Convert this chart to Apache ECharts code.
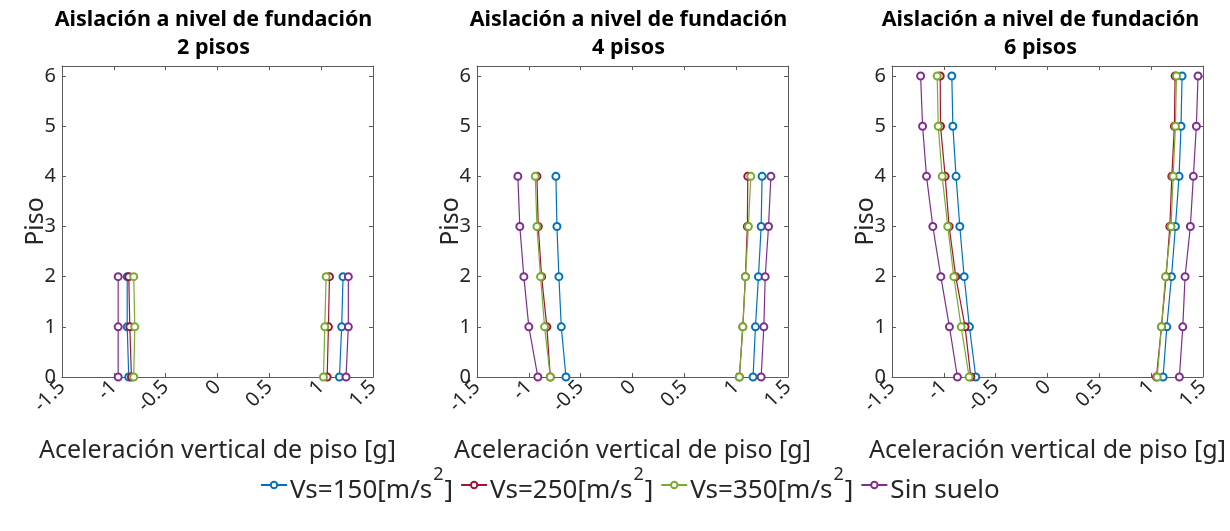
<!DOCTYPE html>
<html>
<head>
<meta charset="utf-8">
<script src="https://cdn.jsdelivr.net/npm/echarts@6/dist/echarts.min.js"></script>
<style>html,body{margin:0;padding:0;background:#fff;}#c{width:1230px;height:531px;}</style>
</head>
<body>
<div id="c"></div>
<script>
// ---- Data ----
const titles = ['Aislación a nivel de fundación\n2 pisos', 'Aislación a nivel de fundación\n4 pisos', 'Aislación a nivel de fundación\n6 pisos'];
const seriesNames = ['Vs=150[m/s²]', 'Vs=250[m/s²]', 'Vs=350[m/s²]', 'Sin suelo'];
const xTicks = [-1.5, -1, -0.5, 0, 0.5, 1, 1.5];
const yTicks = [0, 1, 2, 3, 4, 5, 6];
const floors2 = [0, 1, 2];
const floors4 = [0, 1, 2, 3, 4];
const floors6 = [0, 1, 2, 3, 4, 5, 6];

// 2 pisos (floor 0..2): negative (left) and positive (right) branches
const p2_vs150_left = [-0.856, -0.871, -0.871];
const p2_vs150_right = [1.176, 1.198, 1.211];
const p2_vs250_left = [-0.830, -0.846, -0.856];
const p2_vs250_right = [1.058, 1.070, 1.080];
const p2_vs350_left = [-0.808, -0.798, -0.808];
const p2_vs350_right = [1.022, 1.035, 1.048];
const p2_sin_left = [-0.958, -0.958, -0.958];
const p2_sin_right = [1.240, 1.262, 1.262];

// 4 pisos (floor 0..4)
const p4_vs150_left = [-0.642, -0.687, -0.710, -0.729, -0.739];
const p4_vs150_right = [1.163, 1.186, 1.215, 1.241, 1.250];
const p4_vs250_left = [-0.793, -0.826, -0.877, -0.909, -0.922];
const p4_vs250_right = [1.031, 1.064, 1.089, 1.108, 1.112];
const p4_vs350_left = [-0.793, -0.848, -0.887, -0.922, -0.938];
const p4_vs350_right = [1.031, 1.064, 1.089, 1.118, 1.141];
const p4_sin_left = [-0.913, -1.000, -1.048, -1.087, -1.106];
const p4_sin_right = [1.241, 1.267, 1.280, 1.312, 1.335];

// 6 pisos (floor 0..6)
const p6_vs150_left = [-0.692, -0.753, -0.804, -0.846, -0.882, -0.913, -0.923];
const p6_vs150_right = [1.115, 1.151, 1.196, 1.234, 1.269, 1.288, 1.298];
const p6_vs250_left = [-0.740, -0.795, -0.885, -0.949, -0.987, -1.032, -1.035];
const p6_vs250_right = [1.051, 1.099, 1.144, 1.180, 1.199, 1.224, 1.231];
const p6_vs350_left = [-0.756, -0.833, -0.904, -0.962, -1.016, -1.054, -1.064];
const p6_vs350_right = [1.058, 1.099, 1.138, 1.192, 1.212, 1.234, 1.244];
const p6_sin_left = [-0.869, -0.946, -1.029, -1.106, -1.167, -1.205, -1.224];
const p6_sin_right = [1.272, 1.305, 1.327, 1.378, 1.407, 1.436, 1.452];

const colors = ['#0072BD', '#A2142F', '#77AC30', '#7E2F8E'];

const panels = [
  { floors: floors2, sets: [[p2_vs150_left, p2_vs150_right], [p2_vs250_left, p2_vs250_right], [p2_vs350_left, p2_vs350_right], [p2_sin_left, p2_sin_right]] },
  { floors: floors4, sets: [[p4_vs150_left, p4_vs150_right], [p4_vs250_left, p4_vs250_right], [p4_vs350_left, p4_vs350_right], [p4_sin_left, p4_sin_right]] },
  { floors: floors6, sets: [[p6_vs150_left, p6_vs150_right], [p6_vs250_left, p6_vs250_right], [p6_vs350_left, p6_vs350_right], [p6_sin_left, p6_sin_right]] }
];

// ---- Layout ----
const FONT = 'Noto Sans';
const TXT = '#262626';
const AX = '#5a5a5a';
const gridLefts = [62, 477, 892];
const gridW = 311, gridTop = 66, gridH = 311;

const grids = [], xAxes = [], yAxes = [], series = [], titleArr = [];
panels.forEach((p, i) => {
  grids.push({ left: gridLefts[i], top: gridTop, width: gridW, height: gridH });
  titleArr.push({
    text: titles[i], left: gridLefts[i] + gridW / 2 - 9 - (i === 2 ? 3 : 0), top: 1, textAlign: 'center',
    textStyle: { fontFamily: FONT, fontSize: 21.5, fontWeight: 'bold', color: '#000', lineHeight: 28 }
  });
  // bottom x axis
  xAxes.push({
    gridIndex: i, type: 'value', min: -1.5, max: 1.5, interval: 0.5, position: 'bottom',
    name: 'Aceleración vertical de piso [g]', nameLocation: 'middle', nameGap: 61,
    nameTextStyle: { fontFamily: FONT, fontSize: 25, color: TXT },
    axisLine: { show: true, onZero: false, lineStyle: { color: AX, width: 1 } },
    axisTick: { show: true, inside: true, length: 4, lineStyle: { color: AX } },
    axisLabel: { rotate: 45, margin: 7, fontFamily: FONT, fontSize: 20, color: TXT,
      formatter: v => xTicks.includes(v) ? String(v) : '' },
    splitLine: { show: false }
  });
  // top x axis (box)
  xAxes.push({
    gridIndex: i, type: 'value', min: -1.5, max: 1.5, interval: 0.5, position: 'top',
    axisLine: { show: true, onZero: false, lineStyle: { color: AX, width: 1 } },
    axisTick: { show: true, inside: true, length: 4, lineStyle: { color: AX } },
    axisLabel: { show: false }, splitLine: { show: false }
  });
  // left y axis
  yAxes.push({
    gridIndex: i, type: 'value', min: 0, max: 6.2, interval: 1, position: 'left',
    name: 'Piso', nameLocation: 'middle', nameGap: 14, nameMoveOverlap: false,
    nameTextStyle: { fontFamily: FONT, fontSize: 25, color: TXT },
    axisLine: { show: true, onZero: false, lineStyle: { color: AX, width: 1 } },
    axisTick: { show: true, inside: true, length: 4, lineStyle: { color: AX } },
    axisLabel: { margin: 6, fontFamily: FONT, fontSize: 20, color: TXT,
      formatter: v => yTicks.includes(v) ? String(v) : '' },
    splitLine: { show: false }
  });
  // right y axis (box)
  yAxes.push({
    gridIndex: i, type: 'value', min: 0, max: 6.2, interval: 1, position: 'right',
    axisLine: { show: true, onZero: false, lineStyle: { color: AX, width: 1 } },
    axisTick: { show: true, inside: true, length: 4, lineStyle: { color: AX } },
    axisLabel: { show: false }, splitLine: { show: false }
  });
  p.sets.forEach((pair, k) => {
    pair.forEach(xs => {
      series.push({
        name: seriesNames[k], type: 'line',
        xAxisIndex: i * 2, yAxisIndex: i * 2,
        data: xs.map((x, j) => [x, p.floors[j]]),
        symbol: 'emptyCircle', symbolSize: 7,
        lineStyle: { color: colors[k], width: 1.2 },
        itemStyle: { color: colors[k], borderColor: colors[k], borderWidth: 1.2 },
        clip: false, z: 2 + k
      });
    });
  });
});

const chart = echarts.init(document.getElementById('c'), null, { renderer: 'canvas' });
chart.setOption({
  animation: false,
  backgroundColor: '#fff',
  color: colors,
  title: titleArr,
  grid: grids,
  xAxis: xAxes,
  yAxis: yAxes,
  legend: {
    data: seriesNames, left: 255, top: 461, itemWidth: 26, itemHeight: 8, itemGap: 7,
    formatter: n => {
      const m = n.match(/^(.*)²(.*)$/);
      return m ? '{b|' + m[1] + '}{s|2}{b|' + m[2] + '}' : '{b|' + n + '}';
    },
    textStyle: {
      fontFamily: FONT, fontSize: 26, color: TXT, padding: [0, 0, 0, -2],
      rich: {
        b: { fontFamily: FONT, fontSize: 26, color: TXT, lineHeight: 38, verticalAlign: 'bottom' },
        s: { fontFamily: FONT, fontSize: 18, color: TXT, lineHeight: 18, verticalAlign: 'top', padding: [0, 1, 0, 1] }
      }
    }
  },
  series: series
});
</script>
</body>
</html>
